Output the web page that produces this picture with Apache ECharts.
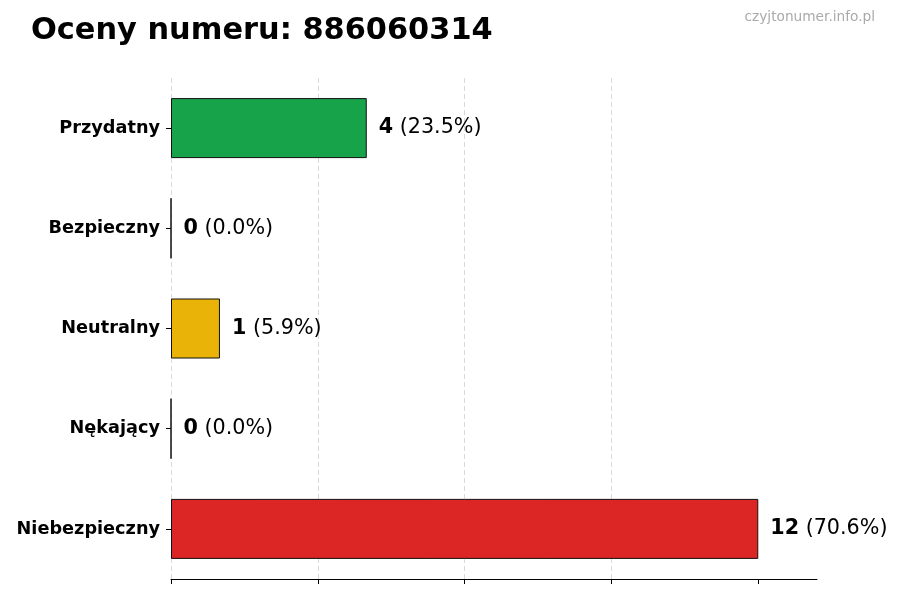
<!DOCTYPE html>
<html>
<head>
<meta charset="UTF-8">
<title>Oceny numeru</title>
<script src="https://cdn.jsdelivr.net/npm/echarts@6/dist/echarts.min.js"></script>
<style>
	html,body{margin:0;padding:0;background:#fff;}
	#chart{width:900px;height:600px;}
</style>
</head>
<body>
<div id="chart"></div>
<script>
	// dane wykresu
	var categories = ['Przydatny', 'Bezpieczny', 'Neutralny', 'Nękający', 'Niebezpieczny'];
	var counts = [4, 0, 1, 0, 12];
	var percents = ['23.5', '0.0', '5.9', '0.0', '70.6'];
	var colors = ['#16a34a', '#2563eb', '#eab308', '#f97316', '#dc2626'];
	var xTicks = [0, 3, 6, 9, 12];

	var fontFamily = 'DejaVu Sans, sans-serif';

	var barData = [];
	for (var i = 0; i < categories.length; i++) {
		barData.push({
			value: counts[i],
			itemStyle: {color: colors[i]}
		});
	}

	var myChart = echarts.init(document.getElementById('chart'));
	var option = {
		animation: false,
		textStyle: {fontFamily: fontFamily},
		title: [{
			text: 'Oceny numeru: 886060314',
			left: 26,
			top: 11,
			textStyle: {fontSize: 30.4, fontWeight: 'bold', color: '#000', fontFamily: fontFamily}
		}, {
			text: 'czyjtonumer.info.pl',
			right: 20,
			top: 5,
			textStyle: {fontSize: 13.7, fontWeight: 'normal', color: '#aaaaaa', fontFamily: fontFamily}
		}],
		grid: {left: 171, right: 83, top: 78, bottom: 21, containLabel: false},
		xAxis: {
			type: 'value',
			min: 0,
			max: 13.2,
			interval: 3,
			axisLine: {show: true, lineStyle: {color: '#000', width: 1}},
			axisTick: {show: true, length: 5, customValues: xTicks, lineStyle: {color: '#000'}},
			axisLabel: {show: false},
			splitLine: {show: true, showMaxLine: false, lineStyle: {color: '#d0d0d0', type: [5, 3], width: 0.8}}
		},
		yAxis: {
			type: 'category',
			inverse: true,
			data: categories,
			axisLine: {show: false},
			axisTick: {show: true, length: 5, alignWithLabel: true, lineStyle: {color: '#000'}},
			axisLabel: {
				margin: 11,
				fontSize: 17.7,
				fontWeight: 'bold',
				color: '#000',
				fontFamily: fontFamily
			}
		},
		series: [{
			type: 'bar',
			data: barData,
			barWidth: 60,
			itemStyle: {borderColor: '#111', borderWidth: 1},
			label: {
				show: true,
				position: 'right',
				distance: 12,
				formatter: function (p) {
					return '{b|' + counts[p.dataIndex] + '}{n| (' + percents[p.dataIndex] + '%)}';
				},
				rich: {
					b: {fontSize: 20.7, fontWeight: 'bold', color: '#000', fontFamily: fontFamily},
					n: {fontSize: 20.7, fontWeight: 'normal', color: '#000', fontFamily: fontFamily}
				}
			}
		}]
	};
	myChart.setOption(option);
</script>
</body>
</html>
